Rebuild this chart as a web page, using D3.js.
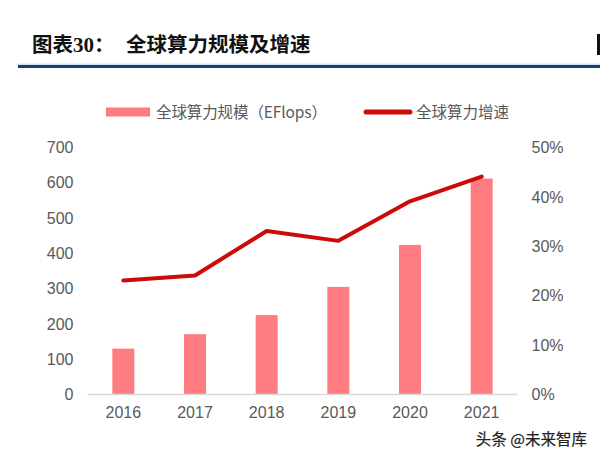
<!DOCTYPE html>
<html><head><meta charset="utf-8">
<script src="https://cdn.jsdelivr.net/npm/d3@7/dist/d3.min.js"></script>
<style>html,body{margin:0;padding:0;background:#fff;}</style>
</head><body>
<svg id="c" width="600" height="457"></svg>
<script>
const years = ["2016","2017","2018","2019","2020","2021"];
const scale = [130, 171, 225, 305, 424, 612];
const growth = [0.231, 0.241, 0.331, 0.311, 0.391, 0.441];
const leftTicks = [0,100,200,300,400,500,600,700];
const rightTicks = [0,0.1,0.2,0.3,0.4,0.5];
const legendLabels = ["全球算力规模（EFlops）","全球算力增速"];
const titleParts = ["图表","30","："];
const titleText = "全球算力规模及增速";
const watermark = "头条 @未来智库";

const svg = d3.select("#c");
const barColor = "#ff7c80", lineColor = "#cc0a0a", txt = "#595959";

// title
const t1 = svg.append("text").attr("x",32).attr("y",52).attr("font-weight","bold").attr("fill","#111");
t1.append("tspan").attr("font-family","'Noto Sans CJK SC'").attr("font-size",20.5).text(titleParts[0]);
t1.append("tspan").attr("font-family","'Liberation Serif'").attr("font-size",21).text(titleParts[1]);
t1.append("tspan").attr("font-family","'Noto Sans CJK SC'").attr("font-size",20.5).text(titleParts[2]);
svg.append("text").attr("x",126).attr("y",52).attr("font-family","'Noto Sans CJK SC'")
  .attr("font-weight","bold").attr("font-size",20.5).attr("fill","#111").text(titleText);
svg.append("rect").attr("x",18).attr("y",65).attr("width",582).attr("height",3).attr("fill","#1d3d78");
svg.append("rect").attr("x",18).attr("y",63.5).attr("width",582).attr("height",1.5).attr("fill","#cfe0f0");
svg.append("rect").attr("x",597).attr("y",34).attr("width",3).attr("height",21).attr("fill","#111");

const x = d3.scaleBand().domain(years).range([87.5,517.5]).paddingInner(0.693).paddingOuter(0.3465);
const yL = d3.scaleLinear().domain([0,700]).range([394.5,147.5]);
const yR = d3.scaleLinear().domain([0,0.5]).range([394.5,147.5]);

// bars
svg.append("g").selectAll("rect").data(years).join("rect")
  .attr("x",d=>x(d)).attr("width",x.bandwidth())
  .attr("y",(d,i)=>yL(scale[i])).attr("height",(d,i)=>yL(0)-yL(scale[i]))
  .attr("fill",barColor);

// baseline
svg.append("line").attr("x1",87.5).attr("x2",517.5).attr("y1",yL(0)).attr("y2",yL(0))
  .attr("stroke","#d9d9d9").attr("stroke-width",1.5);

// line
const line = d3.line().x((d,i)=>x(years[i])+x.bandwidth()/2).y(d=>yR(d));
svg.append("path").datum(growth).attr("d",line).attr("fill","none")
  .attr("stroke",lineColor).attr("stroke-width",4).attr("stroke-linejoin","round").attr("stroke-linecap","round");

// axes
const font = "'Liberation Sans', Arial, sans-serif";
const gL = svg.append("g").attr("transform","translate(87.5,0)")
  .call(d3.axisLeft(yL).tickValues(leftTicks).tickSize(0).tickPadding(14).tickFormat(d3.format("d")));
const gR = svg.append("g").attr("transform","translate(517.5,0)")
  .call(d3.axisRight(yR).tickValues(rightTicks).tickSize(0).tickPadding(14).tickFormat(d3.format(".0%")));
const gX = svg.append("g").attr("transform","translate(0,"+yL(0)+")")
  .call(d3.axisBottom(x).tickSize(0).tickPadding(12));
[gL,gR,gX].forEach(g=>{
  g.select(".domain").remove();
  g.selectAll("text").attr("font-family",font).attr("font-size",16).attr("fill",txt);
});

// legend
svg.append("rect").attr("x",106).attr("y",107.5).attr("width",44).attr("height",9).attr("fill",barColor);
svg.append("text").attr("x",156).attr("y",117.5).attr("font-family","'Noto Sans CJK SC'")
  .attr("font-size",15.5).attr("fill",txt).attr("textLength",171).text(legendLabels[0]);
svg.append("line").attr("x1",366).attr("x2",410).attr("y1",112).attr("y2",112)
  .attr("stroke",lineColor).attr("stroke-width",5).attr("stroke-linecap","round");
svg.append("text").attr("x",416).attr("y",117.5).attr("font-family","'Noto Sans CJK SC'")
  .attr("font-size",15.5).attr("fill",txt).text(legendLabels[1]);

// watermark
svg.append("text").attr("x",587).attr("y",445).attr("text-anchor","end").attr("font-family","'Noto Sans CJK SC'")
  .attr("font-size",15.5).attr("fill","#222").attr("stroke","#222").attr("stroke-width",0.2).text(watermark);
</script>
</body></html>
